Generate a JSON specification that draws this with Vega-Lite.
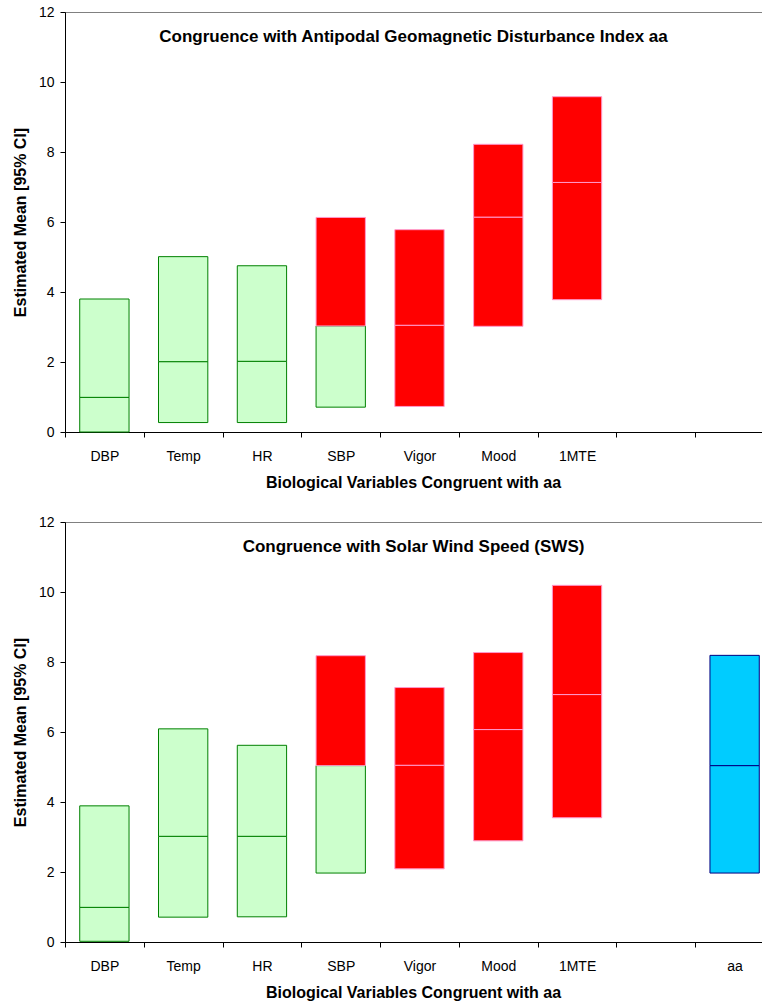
{
  "$schema": "https://vega.github.io/schema/vega-lite/v6.json",
  "background": "white",
  "padding": {"left": 11, "top": 4, "right": 0, "bottom": 3},
  "config": {
    "view": {"stroke": "#808080", "strokeWidth": 1},
    "font": "Liberation Sans",
    "axis": {
      "domainColor": "#000000", "domainWidth": 1, "tickColor": "#000000", "tickSize": 5,
      "labelFont": "Liberation Sans", "labelFontSize": 14, "labelColor": "#000000",
      "titleFont": "Liberation Sans", "titleFontSize": 16, "titleFontWeight": "bold", "titleColor": "#000000",
      "grid": false
    },
    "concat": {"spacing": 23}
  },
  "datasets": {
    "ci": [
      {"panel": "aa", "cat": "DBP", "lo": 0.0, "hi": 0.99, "part": "g"},
      {"panel": "aa", "cat": "DBP", "lo": 0.99, "hi": 3.80, "part": "g"},
      {"panel": "aa", "cat": "Temp", "lo": 0.27, "hi": 2.01, "part": "g"},
      {"panel": "aa", "cat": "Temp", "lo": 2.01, "hi": 5.01, "part": "g"},
      {"panel": "aa", "cat": "HR", "lo": 0.27, "hi": 2.02, "part": "g"},
      {"panel": "aa", "cat": "HR", "lo": 2.02, "hi": 4.75, "part": "g"},
      {"panel": "aa", "cat": "SBP", "lo": 0.71, "hi": 3.03, "part": "g"},
      {"panel": "aa", "cat": "SBP", "lo": 3.03, "hi": 6.13, "part": "r"},
      {"panel": "aa", "cat": "Vigor", "lo": 0.73, "hi": 3.05, "part": "r"},
      {"panel": "aa", "cat": "Vigor", "lo": 3.05, "hi": 5.78, "part": "r"},
      {"panel": "aa", "cat": "Mood", "lo": 3.02, "hi": 6.14, "part": "r"},
      {"panel": "aa", "cat": "Mood", "lo": 6.14, "hi": 8.22, "part": "r"},
      {"panel": "aa", "cat": "1MTE", "lo": 3.78, "hi": 7.13, "part": "r"},
      {"panel": "aa", "cat": "1MTE", "lo": 7.13, "hi": 9.58, "part": "r"},
      {"panel": "sws", "cat": "DBP", "lo": 0.02, "hi": 0.99, "part": "g"},
      {"panel": "sws", "cat": "DBP", "lo": 0.99, "hi": 3.89, "part": "g"},
      {"panel": "sws", "cat": "Temp", "lo": 0.71, "hi": 3.02, "part": "g"},
      {"panel": "sws", "cat": "Temp", "lo": 3.02, "hi": 6.09, "part": "g"},
      {"panel": "sws", "cat": "HR", "lo": 0.72, "hi": 3.02, "part": "g"},
      {"panel": "sws", "cat": "HR", "lo": 3.02, "hi": 5.62, "part": "g"},
      {"panel": "sws", "cat": "SBP", "lo": 1.97, "hi": 5.04, "part": "g"},
      {"panel": "sws", "cat": "SBP", "lo": 5.04, "hi": 8.18, "part": "r"},
      {"panel": "sws", "cat": "Vigor", "lo": 2.09, "hi": 5.05, "part": "r"},
      {"panel": "sws", "cat": "Vigor", "lo": 5.05, "hi": 7.27, "part": "r"},
      {"panel": "sws", "cat": "Mood", "lo": 2.89, "hi": 6.07, "part": "r"},
      {"panel": "sws", "cat": "Mood", "lo": 6.07, "hi": 8.27, "part": "r"},
      {"panel": "sws", "cat": "1MTE", "lo": 3.55, "hi": 7.07, "part": "r"},
      {"panel": "sws", "cat": "1MTE", "lo": 7.07, "hi": 10.19, "part": "r"},
      {"panel": "sws", "cat": "aa", "lo": 1.97, "hi": 5.04, "part": "b"},
      {"panel": "sws", "cat": "aa", "lo": 5.04, "hi": 8.19, "part": "b"}
    ]
  },
  "vconcat": [
    {
      "width": 709,
      "height": 420,
      "data": {"name": "ci"},
      "transform": [{"filter": "datum.panel == 'aa'"}],
      "title": {
        "text": "Congruence with Antipodal Geomagnetic Disturbance Index aa",
        "frame": "group", "orient": "top", "anchor": "middle", "baseline": "alphabetic",
        "offset": -29, "dx": -6, "dy": 25,
        "font": "Liberation Sans", "fontSize": 17, "fontWeight": "bold", "color": "#000000"
      },
      "mark": {"type": "bar", "width": {"band": 0.626}, "strokeWidth": 1},
      "encoding": {
        "x": {
          "field": "cat", "type": "nominal", "sort": null,
          "scale": {"domain": ["DBP", "Temp", "HR", "SBP", "Vigor", "Mood", "1MTE", "gap", "aa"], "paddingInner": 0, "paddingOuter": 0},
          "axis": {
            "title": "Biological Variables Congruent with aa", "labelAngle": 0, "tickBand": "extent",
            "labelPadding": 12, "titlePadding": 11, "titleX": 348,
            "labelExpr": "(datum.value == 'gap' || datum.value == 'aa') ? '' : datum.value"
          }
        },
        "y": {
          "field": "lo", "type": "quantitative",
          "scale": {"domain": [0, 12], "nice": false},
          "axis": {"title": "Estimated Mean [95% CI]", "values": [0, 2, 4, 6, 8, 10, 12], "labelPadding": 6, "titlePadding": 10}
        },
        "y2": {"field": "hi"},
        "fill": {"field": "part", "type": "nominal", "scale": {"domain": ["g", "r", "b"], "range": ["#CCFFCC", "#FF0000", "#00CCFF"]}, "legend": null},
        "stroke": {"field": "part", "type": "nominal", "scale": {"domain": ["g", "r", "b"], "range": ["#008000", "#FF99CC", "#000080"]}, "legend": null}
      }
    },
    {
      "width": 709,
      "height": 420,
      "data": {"name": "ci"},
      "transform": [{"filter": "datum.panel == 'sws'"}],
      "title": {
        "text": "Congruence with Solar Wind Speed (SWS)",
        "frame": "group", "orient": "top", "anchor": "middle", "baseline": "alphabetic",
        "offset": -29, "dx": -6, "dy": 25,
        "font": "Liberation Sans", "fontSize": 17, "fontWeight": "bold", "color": "#000000"
      },
      "mark": {"type": "bar", "width": {"band": 0.626}, "strokeWidth": 1},
      "encoding": {
        "x": {
          "field": "cat", "type": "nominal", "sort": null,
          "scale": {"domain": ["DBP", "Temp", "HR", "SBP", "Vigor", "Mood", "1MTE", "gap", "aa"], "paddingInner": 0, "paddingOuter": 0},
          "axis": {
            "title": "Biological Variables Congruent with aa", "labelAngle": 0, "tickBand": "extent",
            "labelPadding": 12, "titlePadding": 11, "titleX": 348,
            "labelExpr": "datum.value == 'gap' ? '' : datum.value"
          }
        },
        "y": {
          "field": "lo", "type": "quantitative",
          "scale": {"domain": [0, 12], "nice": false},
          "axis": {"title": "Estimated Mean [95% CI]", "values": [0, 2, 4, 6, 8, 10, 12], "labelPadding": 6, "titlePadding": 10}
        },
        "y2": {"field": "hi"},
        "fill": {"field": "part", "type": "nominal", "scale": {"domain": ["g", "r", "b"], "range": ["#CCFFCC", "#FF0000", "#00CCFF"]}, "legend": null},
        "stroke": {"field": "part", "type": "nominal", "scale": {"domain": ["g", "r", "b"], "range": ["#008000", "#FF99CC", "#000080"]}, "legend": null}
      }
    }
  ]
}
